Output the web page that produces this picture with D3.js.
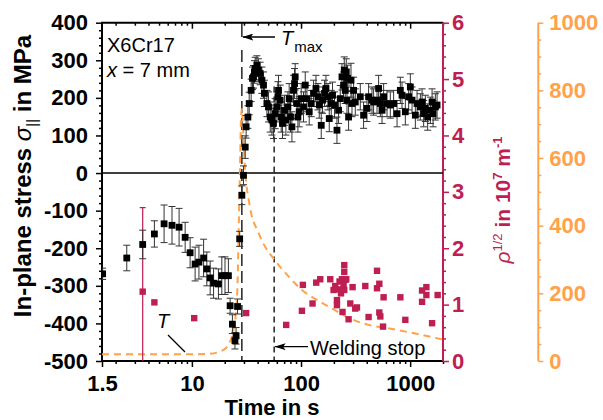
<!DOCTYPE html>
<html>
<head>
<meta charset="utf-8">
<script src="https://cdn.jsdelivr.net/npm/d3@7"></script>
<style>
  body { margin: 0; background: #fff; }
  text { font-family: "Liberation Sans", Arial, sans-serif; }
</style>
</head>
<body>
<script>
// stress: [time s, sigma MPa, error MPa]
var stressData = [
  [1.52, -268, 15], [2.53, -226, 34], [3.54, -190, 38], [4.53, -162, 35], [5.56, -135, 50],
  [6.57, -139, 50], [7.63, -144, 50], [8.67, -171, 40], [9.63, -212, 40], [10.7, -242, 45],
  [11.6, -237, 45], [12.8, -226, 50], [13.7, -255, 45], [14.7, -279, 45], [15.8, -293, 40],
  [17.5, -295, 40], [18.8, -273, 50], [20.1, -273, 50], [21.6, -273, 45], [22.4, -353, 20],
  [23.5, -402, 25], [24.8, -446, 22], [25.4, -433, 22], [26.2, -355, 20], [27.4, -175, 20],
  [28.7, -59, 25], [29.7, -6, 25], [30.8, 69, 30], [31.4, 123, 30], [32.6, 149, 30],
  [33.5, 185, 30], [34.9, 220, 30], [35.9, 252, 30], [36.7, 256, 30], [37.4, 269, 30],
  [38.0, 278, 30], [39.4, 287, 25], [40.7, 274, 30], [42.2, 265, 30], [43.8, 247, 35],
  [45.3, 234, 35], [46.2, 212, 35], [48.7, 185, 35], [50.3, 176, 40], [52.2, 149, 40],
  [54.1, 141, 40], [55.9, 132, 40], [58.0, 158, 40], [60.1, 176, 40], [61.4, 203, 40],
  [62.2, 220, 40], [64.4, 194, 40], [65.8, 149, 40], [67.6, 132, 40], [70.6, 167, 40],
  [72.7, 141, 40], [75.8, 176, 40], [77.9, 198, 40], [80.1, 149, 40], [82.5, 123, 40],
  [85.3, 220, 40], [87.2, 238, 40], [88.4, 256, 35], [91.7, 185, 40], [93.6, 149, 40],
  [96.2, 163, 40], [100.4, 198, 40], [105.4, 176, 40], [109.3, 234, 35], [113.3, 198, 35],
  [118.9, 163, 35], [124.0, 185, 35], [130.2, 212, 35], [137.0, 225, 35], [142.9, 203, 35],
  [146.9, 181, 35], [153.2, 127, 35], [157.5, 194, 35], [164.3, 212, 35], [169.2, 225, 35],
  [176.5, 203, 35], [181.4, 145, 35], [189.2, 185, 35], [194.5, 207, 35], [202.9, 181, 35],
  [213.4, 114, 35], [220.8, 167, 35], [228.8, 198, 35], [237.2, 256, 35], [245.4, 234, 35],
  [249.0, 274, 35], [254.4, 220, 35], [259.8, 269, 35], [263.8, 194, 35], [267.1, 252, 35],
  [272.8, 149, 35], [287.0, 247, 45], [293.1, 185, 35], [303.1, 220, 35], [314.2, 189, 35],
  [349.2, 203, 35], [374.4, 154, 35], [402.3, 172, 35], [416.1, 203, 35], [447.1, 194, 35],
  [462.5, 189, 35], [497.0, 194, 35], [514.0, 225, 35], [533.0, 185, 35], [552.5, 167, 35],
  [571.4, 203, 35], [613.8, 185, 35], [658.0, 181, 35], [705.6, 185, 35], [758.5, 158, 35],
  [812.8, 220, 35], [842.5, 207, 35], [903.3, 163, 35], [968.7, 203, 35], [1004, 229, 35],
  [1041, 194, 35], [1116, 154, 35], [1157, 185, 35], [1240, 176, 35], [1286, 189, 35],
  [1330, 158, 35], [1378, 172, 35], [1447, 149, 35], [1532, 167, 35], [1588, 189, 35],
  [1622, 158, 35], [1702, 176, 35], [1765, 181, 35]
];

// rho^(1/2): [time s, value 1e7 m^-1]
var rhoData = [
  [3.54, 1.23], [4.53, 1.04], [10.5, 0.76], [31.4, 0.85], [73.1, 0.64],
  [101.9, 0.89], [104, 1.35], [127.5, 1.02], [137.8, 1.39], [150, 1.45],
  [185.3, 1.45], [198.7, 1.26], [205.9, 1.33], [213.4, 1.08], [213.4, 0.99],
  [220.8, 1.27], [225.5, 1.41], [232.3, 1.20], [237.2, 1.45], [240, 0.87],
  [245.4, 1.35], [249.1, 1.70], [249.1, 1.58], [249.1, 1.26], [254.4, 1.44],
  [259.8, 1.45], [272.8, 0.74], [282.7, 1.02], [296.8, 1.31], [314, 0.93],
  [325.6, 0.95], [388.1, 1.33], [416, 0.78], [497, 1.60], [497, 1.29],
  [521.8, 0.86], [533, 0.79], [521.8, 1.37], [564.2, 0.61], [571, 1.13],
  [813, 1.13], [903, 0.73], [1286, 1.05], [1286, 1.25], [1408, 1.31],
  [1408, 1.17], [1588, 0.67], [1787, 1.17]
];
var rhoErrorTime = 3.54, rhoErrorValue = 1.23, rhoError = 1.49;

// temperature T: [time s, degC]
var tempData = [
  [1.5, 20], [5, 20], [10, 20], [14, 21], [17, 25], [19, 31], [21, 42], [22.4, 58],
  [24, 90], [25.4, 150], [26.2, 230], [26.8, 378], [27.2, 476], [27.7, 603], [28.2, 721],
  [28.7, 745], [29.3, 700], [30.2, 604], [31.5, 525], [33, 480], [35, 435], [40, 385],
  [45, 348], [56, 303], [75, 254], [102, 210], [150, 175], [210, 148], [264, 130],
  [425, 106], [571, 99], [935, 86], [1240, 78], [1950, 64]
];

var stressTicks = [-500, -400, -300, -200, -100, 0, 100, 200, 300, 400],
  timeTicks = [1.5, 10, 100, 1000],
  rhoTicks = [0, 1, 2, 3, 4, 5, 6],
  tempTicks = [0, 200, 400, 600, 800, 1000];

var tMax = 28.7, weldingStop = 56.7;

var width = 603, height = 420,
  plotLeft = 102, plotRight = 443, plotTop = 22.7, plotBottom = 361,
  red = '#BE1E50', orange = '#FFA24A',
  labelFont = 'bold 22px "Liberation Sans", Arial, sans-serif';

var svg = d3.select('body').append('svg').attr('width', width).attr('height', height);

var x = d3.scaleLog().domain([1.5, 2000]).range([plotLeft, plotRight]),
  y = d3.scaleLinear().domain([-500, 400]).range([plotBottom, plotTop]),
  yRho = d3.scaleLinear().domain([0, 6]).range([plotBottom, plotTop]),
  yT = d3.scaleLinear().domain([0, 1000]).range([plotBottom, plotTop]);

var plain = function(d) { return d < 0 ? '-' + Math.abs(d) : String(d); };

var styleAxis = function(g, color) {
  g.select('.domain').remove();
  g.selectAll('line').attr('stroke', color).attr('stroke-width', 1.5);
  g.selectAll('text').attr('fill', color).style('font', labelFont);
};

var minorTime = [];
[1, 10, 100, 1000].forEach(function(dec) {
  d3.range(2, 10).forEach(function(k) {
    var v = k * dec;
    if (v > 1.5 && v <= 2000 && timeTicks.indexOf(v) < 0) minorTime.push(v);
  });
});

// left axis
svg.append('g').attr('transform', 'translate(' + plotLeft + ',0)')
  .call(d3.axisLeft(y).tickValues(d3.range(-500, 401, 20).filter(function(d) { return d % 100 !== 0; }))
    .tickSize(3).tickFormat(''))
  .call(styleAxis, '#000');
svg.append('g').attr('transform', 'translate(' + plotLeft + ',0)')
  .call(d3.axisLeft(y).tickValues(stressTicks).tickSize(6).tickPadding(8).tickFormat(plain))
  .call(styleAxis, '#000');

// bottom axis
svg.append('g').attr('transform', 'translate(0,' + plotBottom + ')')
  .call(d3.axisBottom(x).tickValues(minorTime).tickSize(3).tickFormat(''))
  .call(styleAxis, '#000');
svg.append('g').attr('transform', 'translate(0,' + plotBottom + ')')
  .call(d3.axisBottom(x).tickValues(timeTicks).tickSize(6).tickPadding(8).tickFormat(plain))
  .call(styleAxis, '#000');

// top axis, ticks inward
svg.append('g').attr('transform', 'translate(0,' + plotTop + ')')
  .call(d3.axisBottom(x).tickValues(minorTime).tickSize(3).tickFormat(''))
  .call(styleAxis, '#000');
svg.append('g').attr('transform', 'translate(0,' + plotTop + ')')
  .call(d3.axisBottom(x).tickValues(timeTicks.slice(1)).tickSize(6).tickFormat(''))
  .call(styleAxis, '#000');

// rho axis
svg.append('g').attr('transform', 'translate(' + plotRight + ',0)')
  .call(d3.axisRight(yRho).tickValues(d3.range(0, 6.01, 0.2).filter(function(d) { return Math.abs(d - Math.round(d)) > 0.01; }))
    .tickSize(3).tickFormat(''))
  .call(styleAxis, red);
svg.append('g').attr('transform', 'translate(' + plotRight + ',0)')
  .call(d3.axisRight(yRho).tickValues(rhoTicks).tickSize(6).tickPadding(3).tickFormat(plain))
  .call(styleAxis, red);

// temperature axis
var tAxisX = 538.3;
svg.append('g').attr('transform', 'translate(' + tAxisX + ',0)')
  .call(d3.axisRight(yT).tickValues(d3.range(0, 1001, 50).filter(function(d) { return d % 200 !== 0; }))
    .tickSize(3).tickFormat(''))
  .call(styleAxis, orange);
svg.append('g').attr('transform', 'translate(' + tAxisX + ',0)')
  .call(d3.axisRight(yT).tickValues(tempTicks).tickSize(5).tickPadding(6).tickFormat(plain))
  .call(styleAxis, orange);
svg.append('line').attr('x1', tAxisX).attr('x2', tAxisX).attr('y1', plotTop).attr('y2', plotBottom)
  .attr('stroke', orange).attr('stroke-width', 2);

// frame
svg.append('path')
  .attr('d', 'M' + plotRight + ',' + plotTop + 'H' + plotLeft + 'V' + plotBottom + 'H' + plotRight)
  .attr('fill', 'none').attr('stroke', '#000').attr('stroke-width', 2);
svg.append('line').attr('x1', plotRight).attr('x2', plotRight).attr('y1', plotTop).attr('y2', plotBottom)
  .attr('stroke', red).attr('stroke-width', 2);

// zero line
svg.append('line').attr('x1', plotLeft).attr('x2', plotRight).attr('y1', y(0)).attr('y2', y(0))
  .attr('stroke', '#000').attr('stroke-width', 1.5);

svg.append('clipPath').attr('id', 'plot-clip').append('rect')
  .attr('x', plotLeft).attr('y', plotTop).attr('width', plotRight - plotLeft).attr('height', plotBottom - plotTop);

var plot = svg.append('g').attr('clip-path', 'url(#plot-clip)');

// T_max and welding stop markers
plot.append('line').attr('x1', x(tMax)).attr('x2', x(tMax)).attr('y1', 50).attr('y2', plotBottom)
  .attr('stroke', '#000').attr('stroke-width', 1.3).attr('stroke-dasharray', '12,5');
plot.append('line').attr('x1', x(weldingStop)).attr('x2', x(weldingStop)).attr('y1', y(230)).attr('y2', plotBottom)
  .attr('stroke', '#000').attr('stroke-width', 1.3).attr('stroke-dasharray', '6,4');

// temperature curve
plot.append('path').datum(tempData)
  .attr('d', d3.line().x(function(d) { return x(d[0]); }).y(function(d) { return yT(d[1]); }).curve(d3.curveMonotoneX))
  .attr('fill', 'none').attr('stroke', orange).attr('stroke-width', 2).attr('stroke-dasharray', '7,5');

// rho points
plot.append('line').attr('x1', x(rhoErrorTime)).attr('x2', x(rhoErrorTime))
  .attr('y1', yRho(rhoErrorValue + rhoError)).attr('y2', yRho(rhoErrorValue - rhoError))
  .attr('stroke', red).attr('stroke-width', 1.2);
plot.append('line').attr('x1', x(rhoErrorTime) - 3).attr('x2', x(rhoErrorTime) + 3)
  .attr('y1', yRho(rhoErrorValue + rhoError)).attr('y2', yRho(rhoErrorValue + rhoError))
  .attr('stroke', red).attr('stroke-width', 1.2);
plot.selectAll('rect.rho').data(rhoData).enter().append('rect').attr('class', 'rho')
  .attr('x', function(d) { return x(d[0]) - 3.2; })
  .attr('y', function(d) { return yRho(d[1]) - 3.2; })
  .attr('width', 6.4).attr('height', 6.4).attr('fill', red);

// stress points with error bars
var bars = plot.selectAll('g.err').data(stressData).enter().append('g').attr('class', 'err')
  .attr('stroke', '#333').attr('stroke-width', 1);
bars.append('line')
  .attr('x1', function(d) { return x(d[0]); }).attr('x2', function(d) { return x(d[0]); })
  .attr('y1', function(d) { return y(d[1] + d[2]); }).attr('y2', function(d) { return y(d[1] - d[2]); });
bars.append('line')
  .attr('x1', function(d) { return x(d[0]) - 3.5; }).attr('x2', function(d) { return x(d[0]) + 3.5; })
  .attr('y1', function(d) { return y(d[1] + d[2]); }).attr('y2', function(d) { return y(d[1] + d[2]); });
bars.append('line')
  .attr('x1', function(d) { return x(d[0]) - 3.5; }).attr('x2', function(d) { return x(d[0]) + 3.5; })
  .attr('y1', function(d) { return y(d[1] - d[2]); }).attr('y2', function(d) { return y(d[1] - d[2]); });
plot.selectAll('rect.stress').data(stressData).enter().append('rect').attr('class', 'stress')
  .attr('x', function(d) { return x(d[0]) - 3.4; })
  .attr('y', function(d) { return y(d[1]) - 3.4; })
  .attr('width', 6.8).attr('height', 6.8).attr('fill', '#000');

// annotations
svg.append('defs').append('marker').attr('id', 'arrow')
  .attr('viewBox', '0 0 11 7').attr('refX', 0.5).attr('refY', 3.5)
  .attr('markerWidth', 11).attr('markerHeight', 7).attr('orient', 'auto')
  .attr('markerUnits', 'userSpaceOnUse')
  .append('path').attr('d', 'M0,3.5L11,0L8.5,3.5L11,7Z').attr('fill', '#000');

svg.append('line').attr('x1', x(tMax)).attr('x2', x(tMax)).attr('y1', plotTop).attr('y2', 37)
  .attr('stroke', '#000').attr('stroke-width', 1.3);
svg.append('line').attr('x1', x(tMax) + 1).attr('x2', 275).attr('y1', 37).attr('y2', 37)
  .attr('stroke', '#000').attr('stroke-width', 1.3).attr('marker-start', 'url(#arrow)');
var tm = svg.append('text').attr('x', 281).attr('y', 45).style('font-size', '20px');
tm.append('tspan').style('font-style', 'italic').text('T');
tm.append('tspan').attr('dy', 7).attr('dx', 1).style('font-size', '15px').text('max');

svg.append('line').attr('x1', x(weldingStop) + 1).attr('x2', 308).attr('y1', 346.7).attr('y2', 346.7)
  .attr('stroke', '#000').attr('stroke-width', 1.3).attr('marker-start', 'url(#arrow)');
svg.append('text').attr('x', 310).attr('y', 355).style('font-size', '20px').text('Welding stop');

svg.append('text').attr('x', 157).attr('y', 328).style('font-size', '20px').style('font-style', 'italic').text('T');
svg.append('line').attr('x1', 168).attr('y1', 335).attr('x2', 185).attr('y2', 352)
  .attr('stroke', '#000').attr('stroke-width', 1.2);

svg.append('text').attr('x', 107).attr('y', 51.5).style('font-size', '20px').text('X6Cr17');
var xl = svg.append('text').attr('x', 107).attr('y', 76.5).style('font-size', '20px');
xl.append('tspan').style('font-style', 'italic').text('x');
xl.append('tspan').text(' = 7 mm');

// axis titles
var yTitle = svg.append('text').attr('transform', 'translate(31,176) rotate(-90)')
  .attr('text-anchor', 'middle').style('font', 'bold 24px "Liberation Sans", Arial, sans-serif');
yTitle.append('tspan').text('In-plane stress ');
yTitle.append('tspan').style('font-style', 'italic').style('font-weight', 'normal').text('σ');
yTitle.append('tspan').attr('dy', 6).style('font-size', '15px').style('font-weight', 'normal').text('||');
yTitle.append('tspan').attr('dy', -6).text(' in MPa');

svg.append('text').attr('x', 272).attr('y', 415).attr('text-anchor', 'middle')
  .style('font', labelFont).text('Time in s');

var rTitle = svg.append('text').attr('transform', 'translate(510,200) rotate(-90)')
  .attr('text-anchor', 'middle').attr('fill', red).style('font', 'bold 21px "Liberation Sans", Arial, sans-serif');
rTitle.append('tspan').style('font-style', 'italic').style('font-weight', 'normal').text('ρ');
rTitle.append('tspan').attr('dy', -8).style('font-size', '13px').style('font-weight', 'normal').text('1/2');
rTitle.append('tspan').attr('dy', 8).text(' in 10');
rTitle.append('tspan').attr('dy', -8).style('font-size', '13px').text('7');
rTitle.append('tspan').attr('dy', 8).text(' m');
rTitle.append('tspan').attr('dy', -8).style('font-size', '13px').text('-1');
</script>
</body>
</html>
